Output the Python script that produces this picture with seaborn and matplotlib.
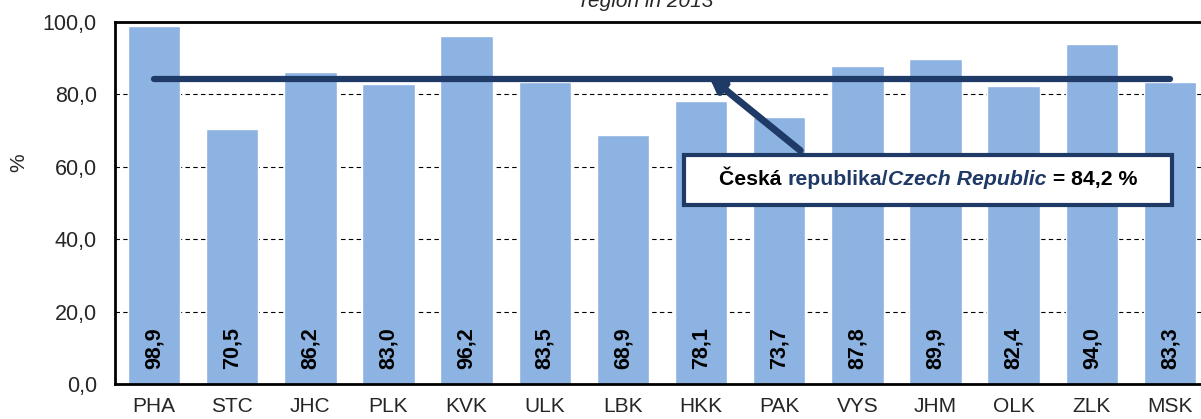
import matplotlib
matplotlib.use("Agg")
import matplotlib.pyplot as plt
import seaborn as sns
from matplotlib.offsetbox import TextArea, HPacker, DrawingArea, AnnotationBbox
from matplotlib.ticker import FuncFormatter, FixedLocator

# Data
regions = ["PHA", "STC", "JHC", "PLK", "KVK", "ULK", "LBK",
           "HKK", "PAK", "VYS", "JHM", "OLK", "ZLK", "MSK"]
values = [98.9, 70.5, 86.2, 83.0, 96.2, 83.5, 68.9,
          78.1, 73.7, 87.8, 89.9, 82.4, 94.0, 83.3]
cz_value = 84.2
title = "region in 2013"

bar_color = "#8DB3E2"
navy = "#1F3A66"

sns.set_style("white")
plt.rcParams["font.family"] = ["Liberation Sans", "DejaVu Sans"]

fig = plt.figure(figsize=(12.01, 4.19), dpi=100)
ax = fig.add_axes([115 / 1201, 35 / 419, (1209 - 115) / 1201, 362 / 419])

sns.barplot(x=regions, y=values, color=bar_color, saturation=1,
            width=0.67, ax=ax, zorder=2)

# country average line
ax.plot([0, len(regions) - 1], [cz_value, cz_value], color=navy, lw=4.5,
        solid_capstyle="round", zorder=4)

# value labels inside bars
for i, v in enumerate(values):
    ax.text(i, 10, f"{v:.1f}".replace(".", ","), rotation=90, ha="center",
            va="center", fontsize=15.5, fontweight="bold", color="black", zorder=5)

ax.set_ylim(0, 100)
ax.set_xlim(-0.5, len(regions) - 0.5)
ax.set_yticks([0, 20, 40, 60, 80, 100])
ax.yaxis.set_major_formatter(FuncFormatter(lambda y, _: f"{y:.1f}".replace(".", ",")))
ax.yaxis.grid(True, color="black", linestyle=(0, (4, 3)), lw=0.8, zorder=1)
ax.set_axisbelow(True)
ax.set_ylabel("%", fontsize=15)
ax.yaxis.set_label_coords(-0.0795, 0.61)
ax.set_xlabel("")

ax.tick_params(axis="y", labelsize=15.5, direction="inout", length=7, width=1, pad=9.5)
ax.tick_params(axis="x", which="major", labelsize=15, length=0, pad=9.5)
ax.xaxis.set_minor_locator(FixedLocator([i + 0.5 for i in range(-1, len(regions))]))
ax.tick_params(axis="x", which="minor", direction="inout", length=8, width=1)

for side in ["left", "bottom", "top", "right"]:
    ax.spines[side].set_visible(True)
    ax.spines[side].set_color("black")
ax.spines["left"].set_linewidth(2)
ax.spines["bottom"].set_linewidth(2)
ax.spines["top"].set_linewidth(2)

# arrow to the average line
ax.annotate("", xy=(7.1, cz_value + 0.8), xytext=(8.27, 64.5),
            arrowprops=dict(arrowstyle="-|>", color=navy, lw=5,
                            mutation_scale=20, shrinkA=0, shrinkB=0),
            zorder=6)

# annotation box
bold = dict(fontsize=15.3, fontweight="bold", color="black")
parts = [
    DrawingArea(14, 1),
    TextArea("Česká ", textprops=bold),
    TextArea("republika/", textprops=dict(bold, color=navy)),
    TextArea("Czech Republic", textprops=dict(bold, color=navy, style="italic")),
    TextArea(" = 84,2 %", textprops=bold),
    DrawingArea(14, 1),
]
box = HPacker(children=parts, align="baseline", pad=0, sep=0)
ab = AnnotationBbox(box, (9.905, 56.4), xycoords="data", frameon=True, pad=1.1,
                    bboxprops=dict(edgecolor=navy, lw=3, facecolor="white"),
                    zorder=7)
ax.add_artist(ab)

fig.text(0.539, 412 / 419, title, ha="center", va="baseline",
         fontsize=15, style="italic")

fig.savefig("out.png", dpi=100)
